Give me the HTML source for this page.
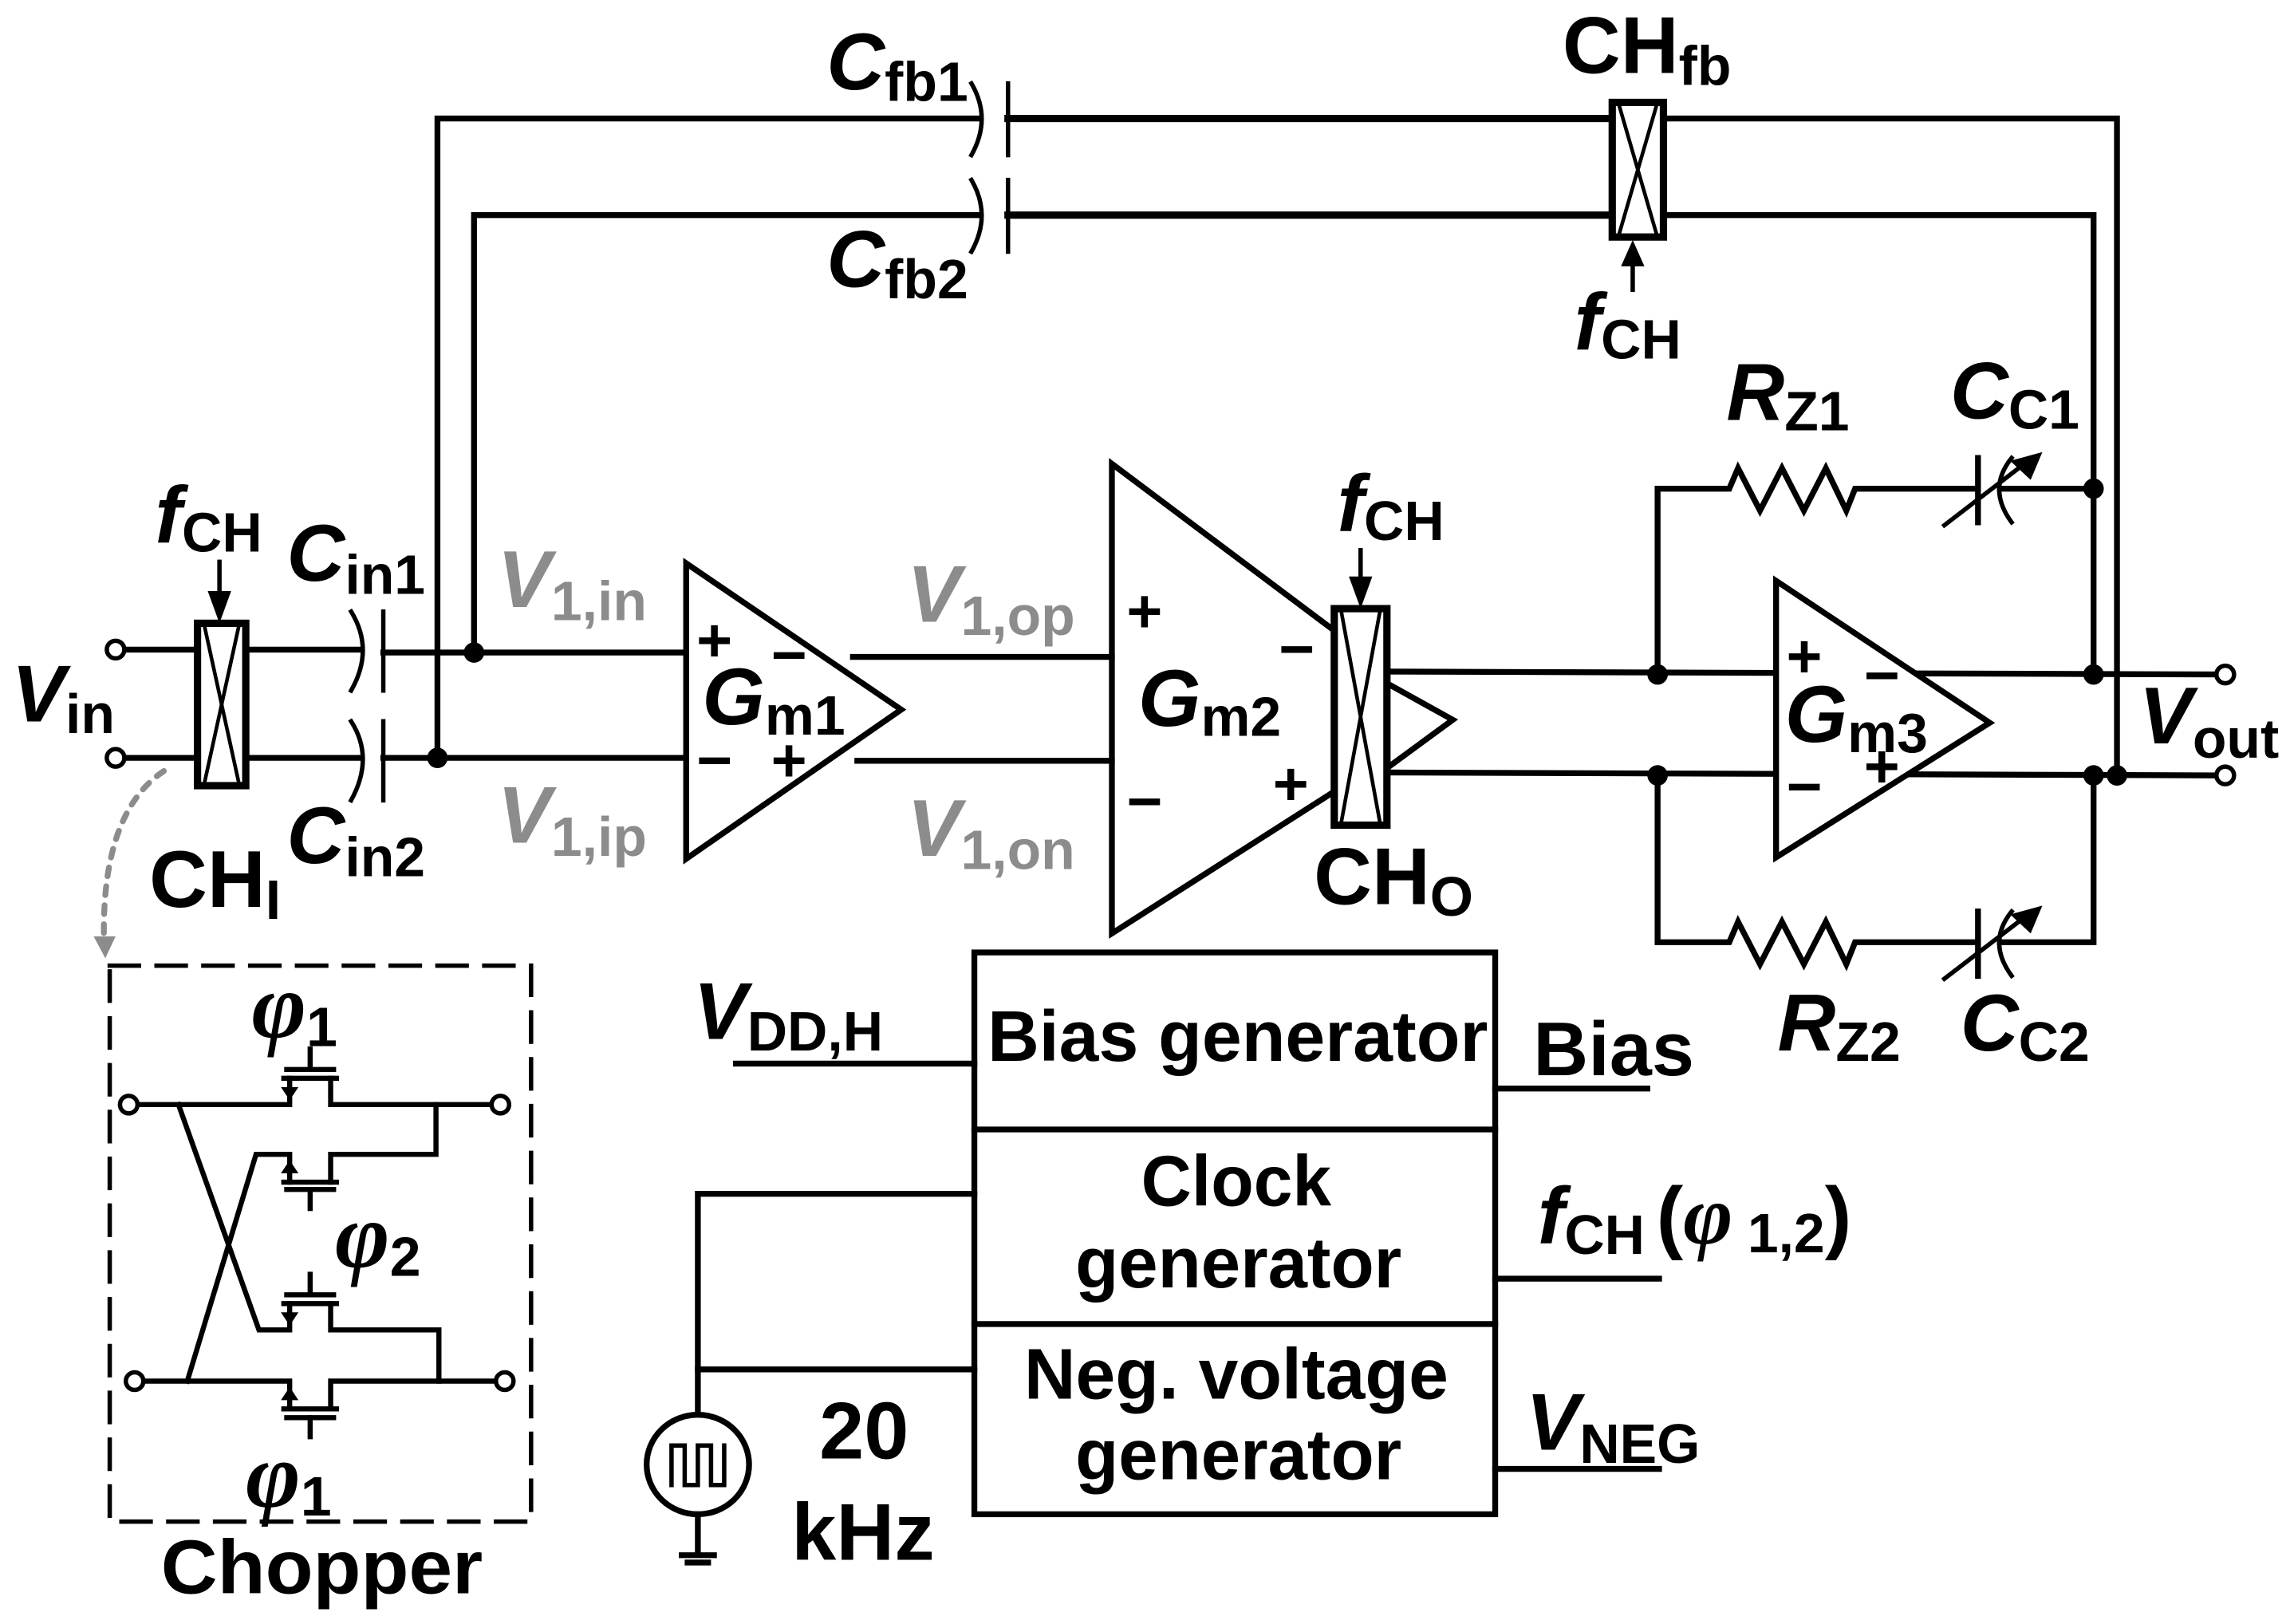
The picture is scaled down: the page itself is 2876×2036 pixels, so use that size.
<!DOCTYPE html>
<html><head><meta charset="utf-8"><style>
html,body{margin:0;padding:0;background:#fff;}
svg{display:block;}
text{font-family:"Liberation Sans",Arial,sans-serif;font-weight:bold;fill:#000;}
.L{font-size:55px;}
.S{font-size:38px;}
.M{font-size:42px;}
.B{font-size:49px;}
.g{fill:#8c8c8c;}
.i{font-style:italic;}
.phi{font-family:"Liberation Serif",serif;font-style:italic;font-weight:bold;font-size:64px;}
</style></head><body>
<svg width="2876" height="2036" viewBox="0 0 1568 1110" xmlns="http://www.w3.org/2000/svg">
<g fill="none" stroke="#000" stroke-width="4" stroke-linecap="square">
<!-- feedback loops -->
<polyline points="299,518 299,81 670,81"/>
<line x1="689" y1="81" x2="1102" y2="81" stroke-width="5"/>
<polyline points="1137,81 1447,81 1447,530"/>
<polyline points="324,446 324,147 670,147"/>
<line x1="689" y1="147" x2="1102" y2="147" stroke-width="5"/>
<polyline points="1137,147 1431,147 1431,461"/>
<path d="M664,57 Q678,81 664,106" stroke-width="3"/>
<line x1="689" y1="57" x2="689" y2="106" stroke-width="3"/>
<path d="M664,123 Q678,147 664,172" stroke-width="3"/>
<line x1="689" y1="123" x2="689" y2="172" stroke-width="3"/>
<rect x="1102" y="70" width="35" height="92" fill="#fff" stroke-width="5"/>
<line x1="1107" y1="73" x2="1132" y2="159" stroke-width="2.5"/>
<line x1="1132" y1="73" x2="1107" y2="159" stroke-width="2.5"/>
<line x1="1116" y1="198" x2="1116" y2="180" stroke-width="3"/>
<!-- input -->
<line x1="84" y1="444" x2="135" y2="444"/>
<line x1="84" y1="518" x2="135" y2="518"/>
<line x1="168" y1="444" x2="246" y2="444"/>
<line x1="168" y1="518" x2="246" y2="518"/>
<path d="M240,418 Q256,444 240,472" stroke-width="3"/>
<line x1="262" y1="418" x2="262" y2="472" stroke-width="3"/>
<path d="M240,493 Q256,518 240,547" stroke-width="3"/>
<line x1="262" y1="493" x2="262" y2="547" stroke-width="3"/>
<line x1="262" y1="446" x2="469" y2="446"/>
<line x1="262" y1="518" x2="469" y2="518"/>
<rect x="135" y="426" width="33" height="111" fill="#fff" stroke-width="5"/>
<line x1="140" y1="429" x2="163" y2="534" stroke-width="2.5"/>
<line x1="163" y1="429" x2="140" y2="534" stroke-width="2.5"/>
<line x1="150" y1="384" x2="150" y2="404" stroke-width="3"/>
<!-- Gm1 -->
<polygon points="469,385 469,587 616,485" fill="#fff"/>
<line x1="583" y1="449" x2="760" y2="449"/>
<line x1="586" y1="520" x2="760" y2="520"/>
<!-- Gm2 -->
<polyline points="912,431 760,317 760,638 912,541"/>
<polyline points="948,467 993,492 948,525"/>
<line x1="948" y1="459" x2="1520" y2="461"/>
<line x1="948" y1="528" x2="1520" y2="530"/>
<rect x="912" y="416" width="36" height="148" fill="#fff" stroke-width="5"/>
<line x1="917" y1="419" x2="943" y2="561" stroke-width="2.5"/>
<line x1="943" y1="419" x2="917" y2="561" stroke-width="2.5"/>
<line x1="930" y1="376" x2="930" y2="394" stroke-width="3"/>
<!-- Gm3 & RC -->
<polygon points="1214,397 1214,586 1360,494" fill="#fff"/>
<polyline points="1133,461 1133,334 1182,334 1188,320 1203,349 1218,320 1233,349 1248,320 1262,349 1268,334 1352,334"/>
<line x1="1352" y1="313" x2="1352" y2="357"/>
<path d="M1375,313 Q1358,334 1375,357" stroke-width="3"/>
<line x1="1367" y1="334" x2="1431" y2="334"/>
<line x1="1329" y1="359" x2="1385" y2="316" stroke-width="3"/>
<polyline points="1133,530 1133,644 1182,644 1188,630 1203,659 1218,630 1233,659 1248,630 1262,659 1268,644 1352,644"/>
<line x1="1352" y1="623" x2="1352" y2="667"/>
<path d="M1375,623 Q1358,644 1375,667" stroke-width="3"/>
<polyline points="1367,644 1431,644 1431,530"/>
<line x1="1329" y1="669" x2="1385" y2="626" stroke-width="3"/>
<!-- bias block -->
<rect x="666" y="651" width="356" height="384"/>
<line x1="666" y1="772" x2="1022" y2="772"/>
<line x1="666" y1="905" x2="1022" y2="905"/>
<line x1="503" y1="727" x2="666" y2="727"/>
<line x1="1022" y1="744" x2="1126" y2="744"/>
<line x1="1022" y1="874" x2="1134" y2="874"/>
<line x1="1022" y1="1004" x2="1134" y2="1004"/>
<polyline points="666,816 477,816 477,966"/>
<line x1="477" y1="936" x2="666" y2="936"/>
<ellipse cx="477" cy="1001" rx="35" ry="34" fill="#fff"/>
<polyline points="459,1015 459,988 468,988 468,1015 477,1015 477,988 486,988 486,1015 495,1015 495,988" stroke-width="3"/>
<line x1="477" y1="1035" x2="477" y2="1062"/>
<line x1="466" y1="1063" x2="488" y2="1063"/>
<line x1="470" y1="1068" x2="484" y2="1068"/>
<!-- chopper -->
<rect x="75" y="660" width="288" height="380" stroke-width="3" stroke-dasharray="20,12"/>
<g stroke-width="3.5">
<polyline points="92,755 198,755 198,737"/>
<polyline points="226,737 226,755 342,755"/>
<line x1="194" y1="737" x2="230" y2="737"/><line x1="196" y1="731" x2="228" y2="731"/><line x1="212" y1="731" x2="212" y2="717"/>
<polyline points="298,755 298,789 226,789 226,808"/>
<polyline points="128,944 175,789 198,789 198,808"/>
<line x1="194" y1="808" x2="230" y2="808"/><line x1="196" y1="813" x2="228" y2="813"/><line x1="212" y1="813" x2="212" y2="826"/>
<polyline points="122,755 177,909 198,909 198,891"/>
<line x1="194" y1="891" x2="230" y2="891"/><line x1="196" y1="885" x2="228" y2="885"/><line x1="212" y1="885" x2="212" y2="871"/>
<polyline points="226,891 226,909 300,909 300,944"/>
<polyline points="92,944 198,944 198,963"/>
<polyline points="226,963 226,944 345,944"/>
<line x1="194" y1="963" x2="230" y2="963"/><line x1="196" y1="969" x2="228" y2="969"/><line x1="212" y1="969" x2="212" y2="982"/>
</g>
</g>
<g fill="#000" stroke="none">
<polygon points="1108,182 1124,182 1116,164"/>
<polygon points="142,404 158,404 150,426"/>
<polygon points="922,394 938,394 930,416"/>
<polygon points="1396,309 1374,315 1388,328"/>
<polygon points="1396,619 1374,625 1388,638"/>
<polygon points="192,743 204,743 198,752"/>
<polygon points="192,802 204,802 198,793"/>
<polygon points="192,897 204,897 198,906"/>
<polygon points="192,957 204,957 198,948"/>
<circle cx="324" cy="446" r="7"/><circle cx="299" cy="518" r="7"/>
<circle cx="1133" cy="461" r="7"/><circle cx="1133" cy="530" r="7"/>
<circle cx="1431" cy="461" r="7"/><circle cx="1431" cy="530" r="7"/>
<circle cx="1447" cy="530" r="7"/><circle cx="1431" cy="334" r="7"/>
</g>
<g fill="#fff" stroke="#000" stroke-width="3">
<circle cx="79" cy="444" r="6"/><circle cx="79" cy="518" r="6"/>
<circle cx="1521" cy="461" r="6"/><circle cx="1521" cy="530" r="6"/>
<circle cx="88" cy="755" r="6"/><circle cx="342" cy="755" r="6"/>
<circle cx="92" cy="944" r="6"/><circle cx="345" cy="944" r="6"/>
</g>
<path d="M112,527 Q70,555 71,640" fill="none" stroke="#8c8c8c" stroke-width="4" stroke-dasharray="6,7" stroke-linecap="round"/>
<polygon points="64,640 79,640 72,655" fill="#8c8c8c"/>
<!-- labels -->
<text x="565" y="61" class="L"><tspan class="i">C</tspan><tspan class="S" dy="8">fb1</tspan></text>
<text x="565" y="196" class="L"><tspan class="i">C</tspan><tspan class="S" dy="8">fb2</tspan></text>
<text x="1068" y="50" class="L">CH<tspan class="S" dy="8">fb</tspan></text>
<text x="1076" y="239" class="L"><tspan class="i">f</tspan><tspan class="S" dy="6">CH</tspan></text>
<text x="106" y="371" class="L"><tspan class="i">f</tspan><tspan class="S" dy="6">CH</tspan></text>
<text x="914" y="363" class="L"><tspan class="i">f</tspan><tspan class="S" dy="6">CH</tspan></text>
<text x="196" y="397" class="L"><tspan class="i">C</tspan><tspan class="S" dy="9">in1</tspan></text>
<text x="196" y="590" class="L"><tspan class="i">C</tspan><tspan class="S" dy="9">in2</tspan></text>
<text x="102" y="620" class="L">CH<tspan class="S" dy="8">I</tspan></text>
<text x="898" y="618" class="L">CH<tspan class="S" dy="8">O</tspan></text>
<text x="8" y="493" class="L"><tspan class="i">V</tspan><tspan class="S" dy="8">in</tspan></text>
<text x="340" y="415" class="L g"><tspan class="i">V</tspan><tspan class="S" dy="9">1,in</tspan></text>
<text x="340" y="576" class="L g"><tspan class="i">V</tspan><tspan class="S" dy="9">1,ip</tspan></text>
<text x="620" y="425" class="L g"><tspan class="i">V</tspan><tspan class="S" dy="9">1,op</tspan></text>
<text x="620" y="585" class="L g"><tspan class="i">V</tspan><tspan class="S" dy="9">1,on</tspan></text>
<text x="480" y="495" class="L"><tspan class="i">G</tspan><tspan class="S" dy="7">m1</tspan></text>
<text x="778" y="496" class="L"><tspan class="i">G</tspan><tspan class="S" dy="7">m2</tspan></text>
<text x="1220" y="507" class="L"><tspan class="i">G</tspan><tspan class="S" dy="7">m3</tspan></text>
<text x="1462" y="508" class="L"><tspan class="i">V</tspan><tspan class="S" dy="10">out</tspan></text>
<text x="1180" y="287" class="L"><tspan class="i">R</tspan><tspan class="S" dy="7">Z1</tspan></text>
<text x="1333" y="286" class="L"><tspan class="i">C</tspan><tspan class="S" dy="7">C1</tspan></text>
<text x="1215" y="718" class="L"><tspan class="i">R</tspan><tspan class="S" dy="7">Z2</tspan></text>
<text x="1340" y="718" class="L"><tspan class="i">C</tspan><tspan class="S" dy="7">C2</tspan></text>
<text x="476" y="452" class="M">+</text><text x="527" y="462" class="M">−</text>
<text x="476" y="534" class="M">−</text><text x="527" y="534" class="M">+</text>
<text x="770" y="432" class="M">+</text><text x="770" y="562" class="M">−</text>
<text x="874" y="458" class="M">−</text><text x="870" y="550" class="M">+</text>
<text x="1221" y="463" class="M">+</text><text x="1274" y="476" class="M">−</text>
<text x="1274" y="538" class="M">+</text><text x="1221" y="552" class="M">−</text>
<text x="675" y="725" class="B" textLength="342" lengthAdjust="spacingAndGlyphs">Bias generator</text>
<text x="780" y="824" class="B" textLength="130" lengthAdjust="spacingAndGlyphs">Clock</text>
<text x="735" y="880" class="B" textLength="223" lengthAdjust="spacingAndGlyphs">generator</text>
<text x="700" y="956" class="B" textLength="290" lengthAdjust="spacingAndGlyphs">Neg. voltage</text>
<text x="735" y="1011" class="B" textLength="223" lengthAdjust="spacingAndGlyphs">generator</text>
<text x="474" y="710" class="L"><tspan class="i">V</tspan><tspan class="S" dy="8">DD,H</tspan></text>
<text x="1048" y="735" class="B" style="font-size:52px" textLength="110" lengthAdjust="spacingAndGlyphs">Bias</text>
<text x="1051" y="850" class="L"><tspan class="i">f</tspan><tspan class="S" dy="7">CH</tspan><tspan dx="8" dy="-7">(</tspan><tspan class="phi" style="font-size:58px">φ</tspan><tspan class="S" dx="10" dy="6">1,2</tspan><tspan dy="-6">)</tspan></text>
<text x="1043" y="991" class="L"><tspan class="i">V</tspan><tspan class="S" dy="9">NEG</tspan></text>
<text x="560" y="997" class="L">20</text>
<text x="541" y="1066" class="L">kHz</text>
<text x="172" y="709" class="L"><tspan class="phi">φ</tspan><tspan class="S" dy="6">1</tspan></text>
<text x="229" y="866" class="L"><tspan class="phi">φ</tspan><tspan class="S" dy="6">2</tspan></text>
<text x="168" y="1030" class="L"><tspan class="phi">φ</tspan><tspan class="S" dy="6">1</tspan></text>
<text x="110" y="1089" class="B" style="font-size:52px" textLength="220" lengthAdjust="spacingAndGlyphs">Chopper</text>
</svg>
</body></html>
